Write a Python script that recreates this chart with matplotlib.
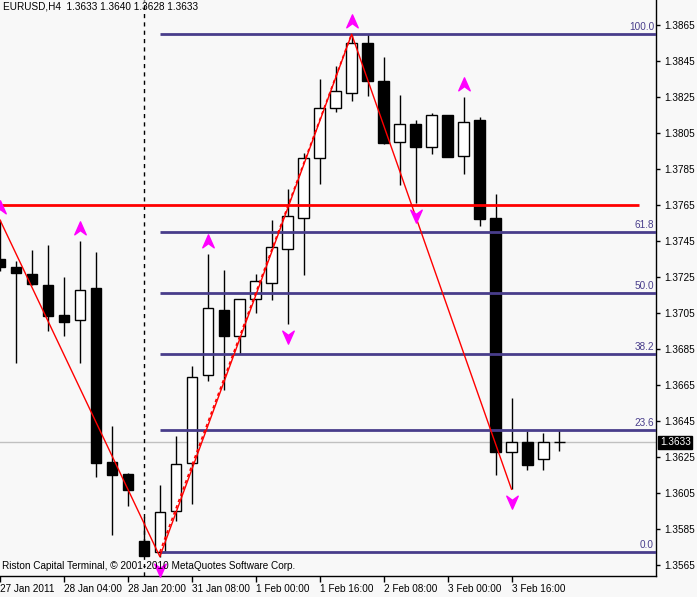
import matplotlib
matplotlib.use("Agg")
import matplotlib.pyplot as plt
from matplotlib.path import Path
from matplotlib import transforms

# EURUSD H4 bars (index 0 = 27 Jan 2011 00:00)
opens = [1.37348, 1.37306, 1.37267, 1.37204, 1.37037, 1.37011, 1.37186, 1.36221, 1.36152,
         1.35782, 1.35719, 1.35950, 1.36217, 1.36702, 1.37065, 1.36922, 1.37124, 1.37213,
         1.37402, 1.37574, 1.37908, 1.38186, 1.38269, 1.38547, 1.38337, 1.37997, 1.38097,
         1.37969, 1.38148, 1.37919, 1.38121, 1.37576, 1.36278, 1.36332, 1.36239, 1.36330]
highs = [1.37565, 1.37339, 1.37398, 1.37426, 1.37250, 1.37448, 1.37387, 1.36421, 1.36161,
         1.35917, 1.36093, 1.36365, 1.36754, 1.37376, 1.37287, 1.37124, 1.37265, 1.37565,
         1.37737, 1.37936, 1.38348, 1.38421, 1.38597, 1.38597, 1.38469, 1.38259, 1.38121,
         1.38158, 1.38148, 1.38250, 1.38139, 1.37709, 1.36578, 1.36393, 1.36382, 1.36400]
lows = [1.37280, 1.36772, 1.37204, 1.36950, 1.36921, 1.36772, 1.36139, 1.35817, 1.35978,
        1.35700, 1.35695, 1.35894, 1.35987, 1.36671, 1.36621, 1.36821, 1.37050, 1.37121,
        1.36987, 1.37259, 1.37763, 1.38167, 1.38228, 1.38254, 1.37986, 1.37759, 1.37658,
        1.37932, 1.37917, 1.37821, 1.37532, 1.36148, 1.36069, 1.36176, 1.36176, 1.36280]
closes = [1.37304, 1.37272, 1.37211, 1.37032, 1.37000, 1.37174, 1.36217, 1.36150, 1.36067,
          1.35700, 1.35941, 1.36208, 1.36691, 1.37074, 1.36922, 1.37124, 1.37226, 1.37413,
          1.37586, 1.37908, 1.38186, 1.38282, 1.38547, 1.38336, 1.37994, 1.38097, 1.37972,
          1.38147, 1.37917, 1.38108, 1.37571, 1.36278, 1.36330, 1.36206, 1.36332, 1.36330]

# zigzag pivots and fractals
zz_bars = [0, 10, 22, 32]
zz_prices = [1.37565, 1.35695, 1.38597, 1.36069]
frac_up_bars = [0, 5, 13, 22, 29]
frac_dn_bars = [10, 18, 26, 32]

# fibonacci retracement
fib_bars = [10, 22]
fib_low, fib_high = 1.3572, 1.3860
fib_levels = [0.0, 23.6, 38.2, 50.0, 61.8, 100.0]

level_line = 1.3765
bid = 1.3633
sep_bar = 9

tick_bars = [0, 4, 8, 12, 16, 20, 24, 28, 32]
tick_labels = ["27 Jan 2011", "28 Jan 04:00", "28 Jan 20:00", "31 Jan 08:00",
               "1 Feb 00:00", "1 Feb 16:00", "2 Feb 08:00", "3 Feb 00:00", "3 Feb 16:00"]
price_ticks = [1.3565, 1.3585, 1.3605, 1.3625, 1.3645, 1.3665, 1.3685, 1.3705,
               1.3725, 1.3745, 1.3765, 1.3785, 1.3805, 1.3825, 1.3845, 1.3865]

BG = "#f8f8f8"
FIB = "#483d8b"
FONT = ["Liberation Sans Narrow", "Liberation Sans"]
FS = 7.2

fig = plt.figure(figsize=(6.97, 5.97), dpi=100, facecolor=BG)
ax = fig.add_axes([0, 21 / 597, 656 / 697, 576 / 597], facecolor=BG)
ax.set_xlim(0.044, 41.04)
ax.set_ylim(1.355872, 1.387872)

# candles
w = 0.66
for i in range(len(opens)):
    o, h, l, c = opens[i], highs[i], lows[i], closes[i]
    ax.vlines(i, l, h, color="black", lw=1, zorder=2)
    if abs(c - o) < 1e-6:
        ax.hlines(o, i - w / 2, i + w / 2, color="black", lw=1, zorder=3)
    else:
        ax.bar(i, abs(c - o), bottom=min(o, c), width=w,
               color="white" if c > o else "black", edgecolor="black", lw=1, zorder=3)

# bid line
ax.axhline(bid, color="#c0c0c0", lw=1, zorder=1)

# separator
ax.axvline(sep_bar, color="black", lw=1, ls=(0, (3, 3)), zorder=4)

# horizontal level
ax.hlines(level_line, 0.044, 40, color="red", lw=2, zorder=5)

# fibonacci
rng = fib_high - fib_low
for lv in fib_levels:
    p = fib_low + rng * lv / 100
    ax.hlines(p, fib_bars[0], 41.04, color=FIB, lw=2, zorder=5)
    ax.text(40.92, p + 0.0001, f"{lv:.1f}", color=FIB, fontsize=FS, family=FONT,
            ha="right", va="bottom", zorder=6)
ax.plot(fib_bars, [fib_low, fib_high], color="red", lw=1.2, ls=(0, (2, 2)), zorder=6)

# zigzag
ax.plot(zz_bars, zz_prices, color="red", lw=1, zorder=6)

# fractal arrows
up_path = Path([(0, 1), (0.75, -0.7), (0, -0.15), (-0.75, -0.7), (0, 1)],
               [Path.MOVETO, Path.LINETO, Path.LINETO, Path.LINETO, Path.CLOSEPOLY])
dn_path = Path([(0, -1), (0.75, 0.7), (0, 0.15), (-0.75, 0.7), (0, -1)],
               [Path.MOVETO, Path.LINETO, Path.LINETO, Path.LINETO, Path.CLOSEPOLY])
up_tr = transforms.offset_copy(ax.transData, fig=fig, y=12, units="dots")
dn_tr = transforms.offset_copy(ax.transData, fig=fig, y=-12, units="dots")
ax.plot(frac_up_bars, [highs[b] for b in frac_up_bars], ls="none", marker=up_path,
        ms=11, color="magenta", transform=up_tr, zorder=7, clip_on=False)
ax.plot(frac_dn_bars, [lows[b] for b in frac_dn_bars], ls="none", marker=dn_path,
        ms=11, color="magenta", transform=dn_tr, zorder=7, clip_on=False)

# axes styling
for s in ["left", "top"]:
    ax.spines[s].set_visible(False)
for s in ["right", "bottom"]:
    ax.spines[s].set_color("black")
    ax.spines[s].set_linewidth(1)
ax.yaxis.tick_right()
ax.set_yticks(price_ticks)
ax.set_yticklabels([f"{p:.4f}" for p in price_ticks], fontsize=FS, family=FONT)
ax.tick_params(axis="y", direction="out", length=3, width=1, pad=3)
ax.set_xticks(tick_bars)
ax.set_xticklabels(tick_labels, fontsize=FS, family=FONT, ha="left")
ax.tick_params(axis="x", direction="out", length=4, width=1, pad=2)

# bid label
ax.text(1.006, bid, f"{bid:.4f}", transform=ax.get_yaxis_transform(), color="white",
        fontsize=FS, family=FONT, ha="left", va="center",
        bbox=dict(boxstyle="square,pad=0.15", fc="black", ec="black"), zorder=10,
        clip_on=False)

# header and footer texts
ax.text(0.004, 0.997, "EURUSD,H4  1.3633 1.3640 1.3628 1.3633", transform=ax.transAxes,
        fontsize=FS, family=FONT, ha="left", va="top")
ax.text(0.003, 0.008, "Riston Capital Terminal, \u00a9 2001-2010 MetaQuotes Software Corp.",
        transform=ax.transAxes, fontsize=FS, family=FONT, ha="left", va="bottom", zorder=8)

fig.savefig("out.png", dpi=100, facecolor=BG)
